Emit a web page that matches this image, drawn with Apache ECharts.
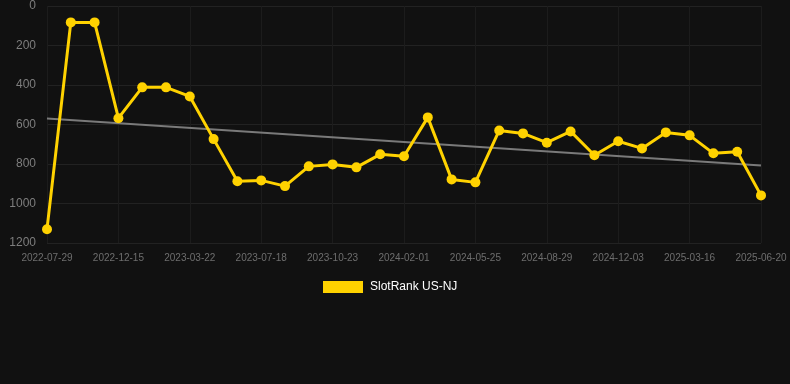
<!DOCTYPE html>
<html>
<head>
<meta charset="utf-8">
<script src="https://cdn.jsdelivr.net/npm/echarts@6/dist/echarts.min.js"></script>
<style>
html,body{margin:0;padding:0;background:#111111;}
#chart{width:790px;height:384px;}
</style>
</head>
<body>
<div id="chart"></div>
<script>
var categories = [
  '2022-07-29','2022-09-12','2022-10-29','2022-12-15','2023-01-19','2023-02-23',
  '2023-03-22','2023-04-30','2023-06-08','2023-07-18','2023-08-21','2023-09-22',
  '2023-10-23','2023-11-26','2023-12-29','2024-02-01','2024-03-14','2024-04-19',
  '2024-05-25','2024-06-26','2024-07-28','2024-08-29','2024-09-30','2024-11-01',
  '2024-12-03','2025-01-06','2025-02-10','2025-03-16','2025-04-17','2025-05-19',
  '2025-06-20'
];
var rankValues = [
  1130, 83, 83, 568, 412, 412,
  458, 674, 887, 883, 912, 812,
  802, 817, 751, 761, 564, 878,
  893, 630, 645, 692, 635, 756,
  685, 721, 640, 655, 746, 738,
  959
];
var trendStart = 570;
var trendEnd = 808;
var yTicks = [0, 200, 400, 600, 800, 1000, 1200];

var chart = echarts.init(document.getElementById('chart'), null, {renderer: 'canvas'});
chart.setOption({
  backgroundColor: '#111111',
  animation: false,
  grid: {left: 47, right: 29, top: 6, bottom: 141, containLabel: false},
  legend: {
    data: ['SlotRank US-NJ'],
    top: 276,
    left: 318,
    itemWidth: 40,
    itemHeight: 12,
    itemGap: 10,
    icon: 'rect',
    textStyle: {color: '#ffffff', fontSize: 12, padding: [0, 0, 0, 2], fontFamily: 'Liberation Sans, Arial, sans-serif'}
  },
  xAxis: {
    type: 'category',
    data: categories,
    boundaryGap: false,
    axisLine: {show: false},
    axisTick: {show: false},
    axisLabel: {
      interval: 2,
      color: '#6e6e6e',
      fontSize: 10,
      margin: 10,
      fontFamily: 'Liberation Sans, Arial, sans-serif'
    },
    splitLine: {show: true, interval: 2, lineStyle: {color: '#1c1c1c', width: 1}}
  },
  yAxis: {
    type: 'value',
    inverse: true,
    min: yTicks[0],
    max: yTicks[yTicks.length - 1],
    interval: 200,
    axisLine: {show: false},
    axisTick: {show: false},
    axisLabel: {
      color: '#7e7e7e',
      fontSize: 12,
      margin: 11,
      formatter: function (v) { return String(v); },
      fontFamily: 'Liberation Sans, Arial, sans-serif'
    },
    splitLine: {show: true, lineStyle: {color: '#222222', width: 1}}
  },
  series: [
    {
      name: 'SlotRank US-NJ',
      type: 'line',
      data: rankValues,
      symbol: 'circle',
      symbolSize: 10,
      itemStyle: {color: '#ffd200'},
      lineStyle: {color: '#ffd200', width: 3},
      z: 3
    },
    {
      name: 'trend',
      type: 'line',
      data: [[categories[0], trendStart], [categories[categories.length - 1], trendEnd]],
      symbol: 'none',
      lineStyle: {color: '#7a7a7a', width: 2},
      itemStyle: {color: '#7a7a7a'},
      z: 2,
      silent: true
    }
  ]
});
</script>
</body>
</html>
